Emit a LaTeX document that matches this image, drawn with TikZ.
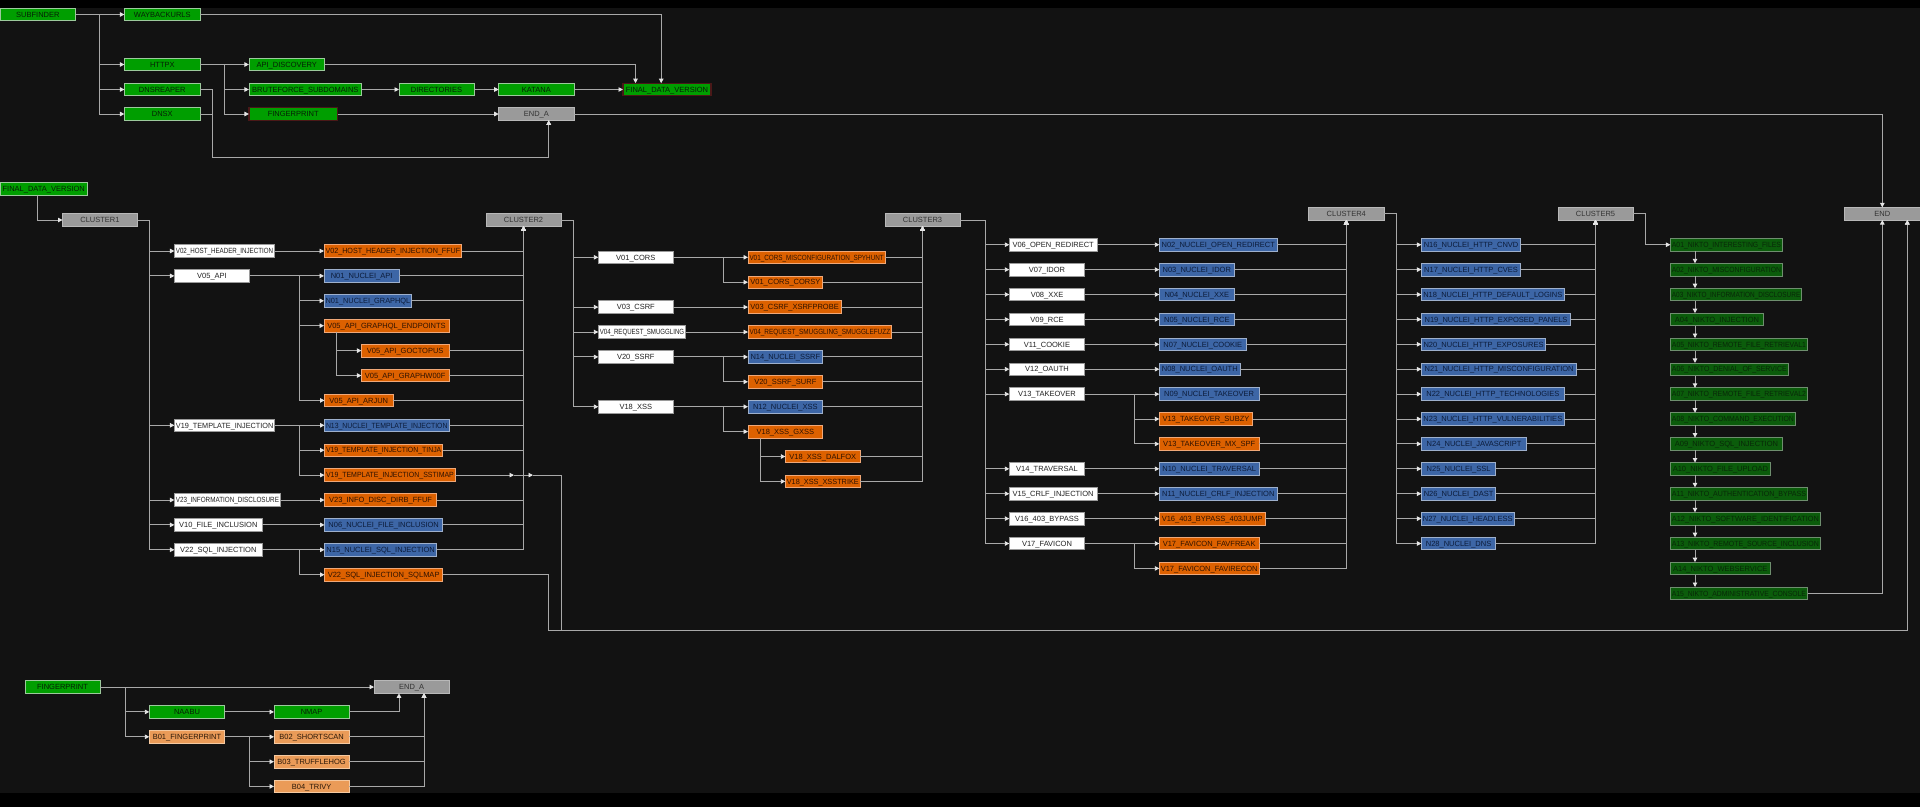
\documentclass[tikz,border=0pt]{standalone}
\usepackage{fontspec}
\setmainfont{Liberation Sans}
\usepackage{graphicx}
\usetikzlibrary{arrows.meta,calc}
\definecolor{grf}{HTML}{009E00}\definecolor{grd}{HTML}{9CC99C}\definecolor{grt}{HTML}{062006}
\definecolor{redd}{HTML}{4A1818}
\definecolor{gyf}{HTML}{9A9A9A}\definecolor{gyd}{HTML}{B8B8B8}\definecolor{gyt}{HTML}{333333}
\definecolor{whd}{HTML}{9A9A9A}\definecolor{wht}{HTML}{222222}
\definecolor{orf}{HTML}{DD6100}\definecolor{ord}{HTML}{F0A878}\definecolor{ort}{HTML}{2E1200}
\definecolor{blf}{HTML}{3D66A6}\definecolor{bld}{HTML}{9EB0CC}\definecolor{blt}{HTML}{0C1C3A}
\definecolor{dgf}{HTML}{0B5C0B}\definecolor{dgd}{HTML}{6E8E6E}\definecolor{dgt}{HTML}{082808}
\definecolor{lof}{HTML}{EA9B58}\definecolor{lod}{HTML}{F5C9A0}\definecolor{lot}{HTML}{2A1808}
\definecolor{bgc}{HTML}{121212}\definecolor{lnc}{HTML}{A8A8A8}\definecolor{arc}{HTML}{E6E6E6}
\newsavebox\lbox
\newlength\fitw
\newcommand\fitlabel[3]{\setlength\fitw{\dimexpr #2pt-#1pt-3pt\relax}\sbox\lbox{#3}\ifdim\wd\lbox>\fitw\resizebox{\fitw}{\height}{\usebox\lbox}\else\usebox\lbox\fi}
\newcommand\bx[6]{\node[nd,#2,minimum width={#4-#3}] (#1) at ({(#3+#4)/2},#5) {\fitlabel{#3}{#4}{#6}};}
\tikzset{
 nd/.style={draw, inner sep=0pt, outer sep=0pt, minimum height=12.6pt, line width=0.8pt, font=\fontsize{7.5}{8}\selectfont, text height=5.4pt, text depth=0pt},
 gr/.style={fill=grf, draw=grd, text=grt},
 grred/.style={fill=grf, draw=redd, line width=1.2pt, text=grt},
 gy/.style={fill=gyf, draw=gyd, text=gyt},
 wh/.style={fill=white, draw=whd, text=wht},
 or/.style={fill=orf, draw=ord, text=ort},
 bl/.style={fill=blf, draw=bld, text=blt},
 dg/.style={fill=dgf, draw=dgd, text=dgt},
 lo/.style={fill=lof, draw=lod, text=lot},
 e/.style={draw=lnc, line width=0.9pt, -{Triangle[length=4.5pt,width=4.5pt,color=arc]}},
}
\begin{document}
\begin{tikzpicture}[x=1pt,y=-1pt]
\useasboundingbox (0,0) rectangle (1920,807);
\fill[black] (0,0) rectangle (1920,807);
\fill[bgc] (0,8) rectangle (1920,793);
% ---------- top ----------
\bx{subf}{gr}{0}{75.8}{14.5}{SUBFINDER}
\bx{wayb}{gr}{124.4}{200.2}{14.5}{WAYBACKURLS}
\bx{httpx}{gr}{124.4}{200.2}{64.5}{HTTPX}
\bx{dnsr}{gr}{124.4}{200.2}{89.5}{DNSREAPER}
\bx{dnsx}{gr}{124.4}{200.2}{114}{DNSX}
\bx{apid}{gr}{248.9}{324.6}{64.5}{API\_DISCOVERY}
\bx{brute}{gr}{248.9}{361.8}{89.5}{BRUTEFORCE\_SUBDOMAINS}
\bx{fpa}{grred}{248.9}{337.5}{114}{FINGERPRINT}
\bx{dirs}{gr}{399}{473.9}{89.5}{DIRECTORIES}
\bx{katana}{gr}{498.7}{574}{89.5}{KATANA}
\bx{enda}{gy}{498.7}{574}{114}{END\_A}
\bx{fdva}{grred}{623}{711}{89.5}{FINAL\_DATA\_VERSION}
% ---------- clusters ----------
\bx{fdvb}{gr}{0}{87.5}{189}{FINAL\_DATA\_VERSION}
\bx{c1}{gy}{62.5}{137.5}{220}{CLUSTER1}
\bx{c2}{gy}{486}{561}{220}{CLUSTER2}
\bx{c3}{gy}{885}{960}{220}{CLUSTER3}
\bx{c4}{gy}{1308.5}{1384}{213.7}{CLUSTER4}
\bx{c5}{gy}{1558.2}{1632.9}{213.7}{CLUSTER5}
\bx{endn}{gy}{1844.6}{1920}{213.7}{END}
% ---------- cluster 1 ----------
\bx{v02}{wh}{174.4}{274.6}{251}{V02\_HOST\_HEADER\_INJECTION}
\bx{v05}{wh}{174.4}{249.6}{275.9}{V05\_API}
\bx{v19}{wh}{174.4}{274.8}{425.3}{V19\_TEMPLATE\_INJECTION}
\bx{v23}{wh}{174.4}{280.5}{500}{V23\_INFORMATION\_DISCLOSURE}
\bx{v10}{wh}{174.4}{262.2}{524.9}{V10\_FILE\_INCLUSION}
\bx{v22}{wh}{174.4}{262.2}{549.8}{V22\_SQL\_INJECTION}
\bx{v02f}{or}{324}{461.8}{251}{V02\_HOST\_HEADER\_INJECTION\_FFUF}
\bx{n01a}{bl}{324}{399.3}{275.9}{N01\_NUCLEI\_API}
\bx{n01g}{bl}{324}{411.8}{300.8}{N01\_NUCLEI\_GRAPHQL}
\bx{v05g}{or}{324}{449}{325.7}{V05\_API\_GRAPHQL\_ENDPOINTS}
\bx{v05o}{or}{361.4}{449}{350.6}{V05\_API\_GOCTOPUS}
\bx{v05w}{or}{361.4}{449}{375.5}{V05\_API\_GRAPHW00F}
\bx{v05j}{or}{324.5}{393}{400.4}{V05\_API\_ARJUN}
\bx{n13}{bl}{324.5}{449}{425.3}{N13\_NUCLEI\_TEMPLATE\_INJECTION}
\bx{v19t}{or}{324.5}{442.8}{450.2}{V19\_TEMPLATE\_INJECTION\_TINJA}
\bx{v19s}{or}{324.5}{455.4}{475.1}{V19\_TEMPLATE\_INJECTION\_SSTIMAP}
\bx{v23f}{or}{324.5}{436.7}{500}{V23\_INFO\_DISC\_DIRB\_FFUF}
\bx{n06}{bl}{324.5}{442.8}{524.9}{N06\_NUCLEI\_FILE\_INCLUSION}
\bx{n15}{bl}{324.5}{436.7}{549.8}{N15\_NUCLEI\_SQL\_INJECTION}
\bx{v22s}{or}{324.5}{442.8}{574.7}{V22\_SQL\_INJECTION\_SQLMAP}
% ---------- cluster 2 ----------
\bx{v01}{wh}{598.3}{673.3}{257.3}{V01\_CORS}
\bx{v03}{wh}{598.3}{673.3}{307.1}{V03\_CSRF}
\bx{v04}{wh}{598.3}{685.7}{332}{V04\_REQUEST\_SMUGGLING}
\bx{v20}{wh}{598.3}{673.3}{356.9}{V20\_SSRF}
\bx{v18}{wh}{598.3}{673.3}{406.7}{V18\_XSS}
\bx{v01s}{or}{748}{885.3}{257.3}{V01\_CORS\_MISCONFIGURATION\_SPYHUNT}
\bx{v01c}{or}{748}{822.7}{282.2}{V01\_CORS\_CORSY}
\bx{v03x}{or}{748}{841.3}{307.1}{V03\_CSRF\_XSRFPROBE}
\bx{v04s}{or}{748}{891.7}{332}{V04\_REQUEST\_SMUGGLING\_SMUGGLEFUZZ}
\bx{n14}{bl}{748}{822.7}{356.9}{N14\_NUCLEI\_SSRF}
\bx{v20s}{or}{748}{822.7}{381.8}{V20\_SSRF\_SURF}
\bx{n12}{bl}{748}{822.7}{406.7}{N12\_NUCLEI\_XSS}
\bx{v18g}{or}{748}{822.7}{431.6}{V18\_XSS\_GXSS}
\bx{v18d}{or}{785.3}{860.3}{456.5}{V18\_XSS\_DALFOX}
\bx{v18x}{or}{785.3}{860.3}{481.4}{V18\_XSS\_XSSTRIKE}
% ---------- cluster 3 ----------
\bx{v06}{wh}{1009.3}{1097}{244.7}{V06\_OPEN\_REDIRECT}
\bx{v07}{wh}{1009.3}{1084.7}{269.6}{V07\_IDOR}
\bx{v08}{wh}{1009.3}{1084.7}{294.5}{V08\_XXE}
\bx{v09}{wh}{1009.3}{1084.7}{319.4}{V09\_RCE}
\bx{v11}{wh}{1009.3}{1084.7}{344.3}{V11\_COOKIE}
\bx{v12}{wh}{1009.3}{1084.7}{369.2}{V12\_OAUTH}
\bx{v13}{wh}{1009.3}{1084.7}{394.1}{V13\_TAKEOVER}
\bx{v14}{wh}{1009.3}{1084.7}{468.8}{V14\_TRAVERSAL}
\bx{v15}{wh}{1009.3}{1097}{493.7}{V15\_CRLF\_INJECTION}
\bx{v16}{wh}{1009.3}{1084.7}{518.6}{V16\_403\_BYPASS}
\bx{v17}{wh}{1009.3}{1084.7}{543.5}{V17\_FAVICON}
\bx{n02}{bl}{1159.3}{1277.3}{244.7}{N02\_NUCLEI\_OPEN\_REDIRECT}
\bx{n03}{bl}{1159.3}{1234.3}{269.6}{N03\_NUCLEI\_IDOR}
\bx{n04}{bl}{1159.3}{1234.3}{294.5}{N04\_NUCLEI\_XXE}
\bx{n05}{bl}{1159.3}{1234.3}{319.4}{N05\_NUCLEI\_RCE}
\bx{n07}{bl}{1159.3}{1246.3}{344.3}{N07\_NUCLEI\_COOKIE}
\bx{n08}{bl}{1159.3}{1240.3}{369.2}{N08\_NUCLEI\_OAUTH}
\bx{n09}{bl}{1159.3}{1259}{394.1}{N09\_NUCLEI\_TAKEOVER}
\bx{v13s}{or}{1159.3}{1252.7}{419}{V13\_TAKEOVER\_SUBZY}
\bx{v13m}{or}{1159.3}{1259}{443.9}{V13\_TAKEOVER\_MX\_SPF}
\bx{n10}{bl}{1159.3}{1259}{468.8}{N10\_NUCLEI\_TRAVERSAL}
\bx{n11}{bl}{1159.3}{1277.3}{493.7}{N11\_NUCLEI\_CRLF\_INJECTION}
\bx{v16j}{or}{1159.3}{1265}{518.6}{V16\_403\_BYPASS\_403JUMP}
\bx{v17f}{or}{1159.3}{1259}{543.5}{V17\_FAVICON\_FAVFREAK}
\bx{v17r}{or}{1159.3}{1259}{568.4}{V17\_FAVICON\_FAVIRECON}
% ---------- cluster 4 ----------
\bx{n16}{bl}{1421.4}{1520.7}{244.7}{N16\_NUCLEI\_HTTP\_CNVD}
\bx{n17}{bl}{1421.4}{1520.7}{269.6}{N17\_NUCLEI\_HTTP\_CVES}
\bx{n18}{bl}{1421.4}{1564.3}{294.5}{N18\_NUCLEI\_HTTP\_DEFAULT\_LOGINS}
\bx{n19}{bl}{1421.4}{1570.7}{319.4}{N19\_NUCLEI\_HTTP\_EXPOSED\_PANELS}
\bx{n20}{bl}{1421.4}{1545.7}{344.3}{N20\_NUCLEI\_HTTP\_EXPOSURES}
\bx{n21}{bl}{1421.4}{1576.8}{369.2}{N21\_NUCLEI\_HTTP\_MISCONFIGURATION}
\bx{n22}{bl}{1421.4}{1564.3}{394.1}{N22\_NUCLEI\_HTTP\_TECHNOLOGIES}
\bx{n23}{bl}{1421.4}{1564.3}{419}{N23\_NUCLEI\_HTTP\_VULNERABILITIES}
\bx{n24}{bl}{1421.4}{1526.8}{443.9}{N24\_NUCLEI\_JAVASCRIPT}
\bx{n25}{bl}{1421.4}{1495.7}{468.8}{N25\_NUCLEI\_SSL}
\bx{n26}{bl}{1421.4}{1495.7}{493.7}{N26\_NUCLEI\_DAST}
\bx{n27}{bl}{1421.4}{1514}{518.6}{N27\_NUCLEI\_HEADLESS}
\bx{n28}{bl}{1421.4}{1495.7}{543.5}{N28\_NUCLEI\_DNS}
% ---------- cluster 5 ----------
\bx{a01}{dg}{1670.4}{1782.5}{244.7}{A01\_NIKTO\_INTERESTING\_FILES}
\bx{a02}{dg}{1670.4}{1782.5}{269.6}{A02\_NIKTO\_MISCONFIGURATION}
\bx{a03}{dg}{1670.4}{1801.8}{294.5}{A03\_NIKTO\_INFORMATION\_DISCLOSURE}
\bx{a04}{dg}{1670.4}{1763.6}{319.4}{A04\_NIKTO\_INJECTION}
\bx{a05}{dg}{1670.4}{1807.5}{344.3}{A05\_NIKTO\_REMOTE\_FILE\_RETRIEVAL1}
\bx{a06}{dg}{1670.4}{1788.2}{369.2}{A06\_NIKTO\_DENIAL\_OF\_SERVICE}
\bx{a07}{dg}{1670.4}{1807.5}{394.1}{A07\_NIKTO\_REMOTE\_FILE\_RETRIEVAL2}
\bx{a08}{dg}{1670.4}{1795.4}{419}{A08\_NIKTO\_COMMAND\_EXECUTION}
\bx{a09}{dg}{1670.4}{1782.5}{443.9}{A09\_NIKTO\_SQL\_INJECTION}
\bx{a10}{dg}{1670.4}{1770.4}{468.8}{A10\_NIKTO\_FILE\_UPLOAD}
\bx{a11}{dg}{1670.4}{1807.5}{493.7}{A11\_NIKTO\_AUTHENTICATION\_BYPASS}
\bx{a12}{dg}{1670.4}{1820.4}{518.6}{A12\_NIKTO\_SOFTWARE\_IDENTIFICATION}
\bx{a13}{dg}{1670.4}{1820.4}{543.5}{A13\_NIKTO\_REMOTE\_SOURCE\_INCLUSION}
\bx{a14}{dg}{1670.4}{1770.1}{568.4}{A14\_NIKTO\_WEBSERVICE}
\bx{a15}{dg}{1670.4}{1807.5}{593.3}{A15\_NIKTO\_ADMINISTRATIVE\_CONSOLE}
% ---------- bottom ----------
\bx{fpb}{gr}{25}{100}{687}{FINGERPRINT}
\bx{endb}{gy}{374}{449.3}{687}{END\_A}
\bx{naabu}{gr}{149.3}{224.7}{711.9}{NAABU}
\bx{b01}{lo}{149.3}{224.7}{736.8}{B01\_FINGERPRINT}
\bx{nmap}{gr}{274}{349.3}{711.9}{NMAP}
\bx{b02}{lo}{274}{349.3}{736.8}{B02\_SHORTSCAN}
\bx{b03}{lo}{274}{349.3}{761.7}{B03\_TRUFFLEHOG}
\bx{b04}{lo}{274}{349.3}{786.4}{B04\_TRIVY}
% ---------- junction coordinates ----------
\coordinate (jS) at (99.6,0);
\coordinate (jH) at (224.5,0);
\coordinate (jD) at (212.1,157);
\coordinate (j1) at (149.5,0);
\coordinate (jV) at (299.3,0);
\coordinate (j2) at (573.3,0);
\coordinate (jC) at (723.3,0);
\coordinate (j3) at (985,0);
\coordinate (jT) at (1134.5,0);
\coordinate (j4) at (1396,0);
\coordinate (j5) at (1645,0);
\coordinate (jF) at (125,0);
\coordinate (jB) at (249.3,0);
\coordinate (k1) at (514,0);
\coordinate (k2) at (533,0);
\coordinate (k3) at (561.4,630);
\coordinate (k4) at (548.4,630);
% ---------- top edges ----------
\foreach \t in {wayb,httpx,dnsr,dnsx} \draw[e] (subf.east) -- (subf.east -| jS) |- (\t.west);
\foreach \t in {apid,brute,fpa} \draw[e] (httpx.east) -- (httpx.east -| jH) |- (\t.west);
\draw[e] (wayb.east) -| ([xshift=38.2pt]fdva.north west);
\draw[e] (apid.east) -| ([xshift=12.5pt]fdva.north west);
\draw[e] (brute) -- (dirs);
\draw[e] (dirs) -- (katana);
\draw[e] (katana) -- (fdva);
\draw[e] (fpa) -- (enda);
\draw[e] (dnsr.east) -- (dnsr.east -| jD) -- (jD) -| ([xshift=12.35pt]enda.south);
\draw[e] (dnsx.east) -- (dnsx.east -| jD) -- (jD) -| ([xshift=12.35pt]enda.south);
\draw[e] (enda.east) -| (endn.north);
% ---------- cluster 1 edges ----------
\draw[e] ([xshift=37.5pt]fdvb.south west) |- (c1.west);
\foreach \t in {v02,v05,v19,v23,v10,v22} \draw[e] (c1.east) -- (c1.east -| j1) |- (\t.west);
\draw[e] (v02) -- (v02f);
\foreach \t in {n01a,n01g,v05g,v05j} \draw[e] (v05.east) -- (v05.east -| jV) |- (\t.west);
\foreach \t in {v05o,v05w} \draw[e] ([xshift=12.4pt]v05g.south west) |- (\t.west);
\foreach \t in {n13,v19t,v19s} \draw[e] (v19.east) -- (v19.east -| jV) |- (\t.west);
\draw[e] (v23) -- (v23f);
\draw[e] (v10) -- (n06);
\foreach \t in {n15,v22s} \draw[e] (v22.east) -- (v22.east -| jV) |- (\t.west);
\foreach \s in {v02f,n01a,n01g,v05o,v05w,v05j,n13,v19t,v23f,n06,n15} \draw[e] (\s.east) -| (c2.south);
\draw[e] (v19s.east) -- (v19s.east -| k1);
\draw[e] (v19s.east -| k1) -- (v19s.east -| k2);
\draw[e] (v19s.east -| k2) -- (v19s.east -| k3) -- (k3) -| ([xshift=25pt]endn.south);
\draw[e] (v22s.east) -- (v22s.east -| k4) -- (k4) -| ([xshift=25pt]endn.south);
% ---------- cluster 2 edges ----------
\foreach \t in {v01,v03,v04,v20,v18} \draw[e] (c2.east) -- (c2.east -| j2) |- (\t.west);
\foreach \t in {v01s,v01c} \draw[e] (v01.east) -- (v01.east -| jC) |- (\t.west);
\draw[e] (v03) -- (v03x);
\draw[e] (v04) -- (v04s);
\foreach \t in {n14,v20s} \draw[e] (v20.east) -- (v20.east -| jC) |- (\t.west);
\foreach \t in {n12,v18g} \draw[e] (v18.east) -- (v18.east -| jC) |- (\t.west);
\foreach \t in {v18d,v18x} \draw[e] ([xshift=12.7pt]v18g.south west) |- (\t.west);
\foreach \s in {v01s,v01c,v03x,v04s,n14,v20s,n12,v18d,v18x} \draw[e] (\s.east) -| (c3.south);
% ---------- cluster 3 edges ----------
\foreach \t in {v06,v07,v08,v09,v11,v12,v13,v14,v15,v16,v17} \draw[e] (c3.east) -- (c3.east -| j3) |- (\t.west);
\draw[e] (v06) -- (n02);
\draw[e] (v07) -- (n03);
\draw[e] (v08) -- (n04);
\draw[e] (v09) -- (n05);
\draw[e] (v11) -- (n07);
\draw[e] (v12) -- (n08);
\foreach \t in {n09,v13s,v13m} \draw[e] (v13.east) -- (v13.east -| jT) |- (\t.west);
\draw[e] (v14) -- (n10);
\draw[e] (v15) -- (n11);
\draw[e] (v16) -- (v16j);
\foreach \t in {v17f,v17r} \draw[e] (v17.east) -- (v17.east -| jT) |- (\t.west);
\foreach \s in {n02,n03,n04,n05,n07,n08,n09,v13s,v13m,n10,n11,v16j,v17f,v17r} \draw[e] (\s.east) -| (c4.south);
% ---------- cluster 4 edges ----------
\foreach \t in {n16,n17,n18,n19,n20,n21,n22,n23,n24,n25,n26,n27,n28} \draw[e] (c4.east) -- (c4.east -| j4) |- (\t.west);
\foreach \s in {n16,n17,n18,n19,n20,n21,n22,n23,n24,n25,n26,n27,n28} \draw[e] (\s.east) -| (c5.south);
% ---------- cluster 5 edges ----------
\draw[e] (c5.east) -- (c5.east -| j5) |- (a01.west);
\foreach \s/\t in {a01/a02,a02/a03,a03/a04,a04/a05,a05/a06,a06/a07,a07/a08,a08/a09,a09/a10,a10/a11,a11/a12,a12/a13,a13/a14,a14/a15}
  \draw[e] ([xshift=24.6pt]\s.south west) -- ([xshift=24.6pt]\t.north west);
\draw[e] (a15.east) -| (endn.south);
% ---------- bottom edges ----------
\draw[e] (fpb) -- (endb);
\foreach \t in {naabu,b01} \draw[e] (fpb.east) -- (fpb.east -| jF) |- (\t.west);
\draw[e] (naabu) -- (nmap);
\foreach \t in {b02,b03,b04} \draw[e] (b01.east) -- (b01.east -| jB) |- (\t.west);
\draw[e] (nmap.east) -| ([xshift=25pt]endb.south west);
\foreach \s in {b02,b03,b04} \draw[e] (\s.east) -| ([xshift=50pt]endb.south west);
\end{tikzpicture}
\end{document}
